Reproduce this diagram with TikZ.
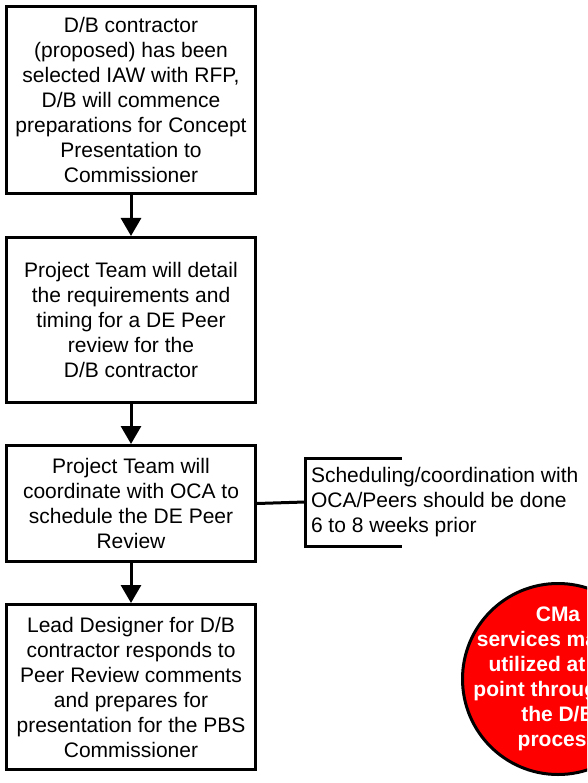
\documentclass[tikz,border=0pt]{standalone}
\usepackage{fontspec}
\setmainfont{Liberation Sans}
\usepackage{tikz}
\usetikzlibrary{positioning,arrows.meta}
\definecolor{cmared}{RGB}{255,0,0}

\begin{document}
\begin{tikzpicture}[
    x=1pt, y=-1pt,
    font=\fontsize{21}{25}\selectfont,
    node distance=41pt,
    box/.style={draw, line width=3pt, minimum width=249pt, align=center, inner sep=0pt},
    arr/.style={-{Triangle[length=18pt,width=20pt]}, line width=3pt},
    note/.style={align=left, anchor=west, inner xsep=6pt, inner ysep=0pt,
                 minimum height=88pt, outer sep=0pt},
    cma/.style={circle, draw, line width=3pt, fill=cmared,
                minimum size=191pt, inner sep=0pt},
    cmatext/.style={text=white, font=\fontsize{21}{25}\selectfont\bfseries,
                    align=center, inner sep=0pt}
  ]
    \clip (0,0) rectangle (587,783);
    \node[box, minimum height=187pt] (B1) at (131,100)
      {D/B contractor\\(proposed) has been\\selected IAW with RFP,\\D/B will commence\\preparations for Concept\\Presentation to\\Commissioner};
    \node[box, minimum height=165pt, below=of B1] (B2)
      {Project Team will detail\\the requirements and\\timing for a DE Peer\\review for the\\D/B contractor};
    \node[box, minimum height=116pt, below=40pt of B2] (B3)
      {Project Team will\\coordinate with OCA to\\schedule the DE Peer\\Review};
    \node[box, minimum height=165pt, below=40pt of B3] (B4)
      {Lead Designer for D/B\\contractor responds to\\Peer Review comments\\and prepares for\\presentation for the PBS\\Commissioner};
    \draw[arr] (B1) -- (B2);
    \draw[arr] (B2) -- (B3);
    \draw[arr] (B3) -- (B4);
    % side note with bracket
    \node[note] (N) at (305,502)
      {Scheduling/coordination with\\OCA/Peers should be done\\6 to 8 weeks prior};
    \draw[line width=3pt] ([xshift=97pt]N.north west) -| (N.south west) -- ++(97,0);
    \draw[line width=3pt] (B3.east) -- (N.west);
    % CMa bubble
    \node[cma] (C) at (558,679) {};
    \node[cmatext] (CT) at (C.center)
      {CMa\\services may be\\utilized at any\\point throughout\\the D/B\\process};
  \end{tikzpicture}
\end{document}
